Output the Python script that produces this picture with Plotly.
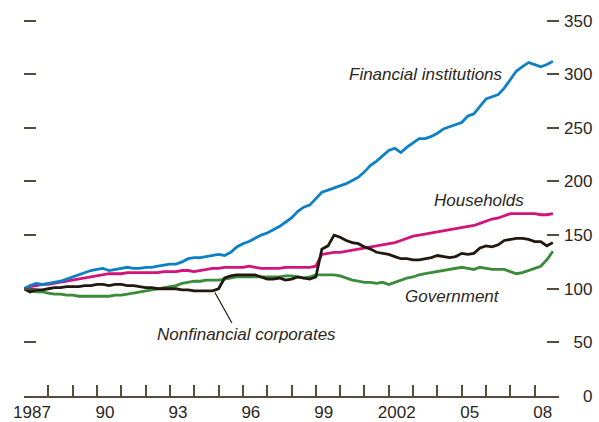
import plotly.graph_objects as go

# Quarterly index values, 1987Q1 .. 2008Q4 (1987 = 100)
years_q = [1987 + i * 0.25 for i in range(88)]

financial = [100, 103, 105, 104,
             105, 106, 107, 109,
             111, 113, 115, 117,
             118, 119, 117, 118,
             119, 120, 119, 119,
             120, 120, 121, 122,
             123, 123, 125, 128,
             129, 129, 130, 131,
             132, 131, 134, 139,
             142, 144, 147, 150,
             152, 155, 158, 162,
             166, 172, 176, 178,
             184, 190, 192, 194,
             196, 198, 201, 204,
             209, 215, 219, 224,
             229, 231, 227, 232,
             236, 240, 240, 242,
             245, 249, 251, 253,
             255, 261, 263, 270,
             277, 279, 281, 287,
             295, 303, 307, 311,
             309, 307, 309, 312]

households = [100, 102, 103, 104,
              104, 105, 106, 107,
              108, 109, 110, 111,
              112, 113, 114, 114,
              114, 115, 115, 115,
              115, 115, 115, 116,
              116, 116, 117, 117,
              116, 117, 118, 119,
              119, 120, 120, 120,
              120, 121, 120, 119,
              119, 119, 119, 120,
              120, 120, 120, 120,
              121, 132, 133, 134,
              134, 135, 136, 137,
              138, 139, 140, 141,
              142, 143, 145, 147,
              149, 150, 151, 152,
              153, 154, 155, 156,
              157, 158, 159, 161,
              163, 165, 166, 168,
              170, 170, 170, 170,
              170, 169, 169, 170]

nonfinancial = [100, 97, 99, 99,
                100, 101, 101, 102,
                102, 102, 103, 103,
                104, 104, 103, 104,
                104, 103, 103, 102,
                101, 101, 100, 100,
                100, 100, 99, 99,
                98, 98, 98, 98,
                100, 110, 112, 113,
                113, 113, 113, 111,
                109, 109, 110, 108,
                109, 111, 110, 109,
                111, 137, 140, 150,
                148, 145, 143, 142,
                139, 137, 134, 133,
                132, 130, 128, 128,
                127, 127, 128, 129,
                131, 130, 129, 130,
                133, 132, 133, 138,
                140, 139, 141, 145,
                146, 147, 147, 146,
                144, 144, 140, 143]

government = [100, 98, 97, 97,
              96, 95, 95, 94,
              94, 93, 93, 93,
              93, 93, 93, 94,
              94, 95, 96, 97,
              98, 99, 100, 101,
              102, 103, 105, 106,
              107, 107, 108, 108,
              108, 109, 110, 111,
              111, 111, 111, 111,
              111, 111, 111, 112,
              112, 111, 110, 111,
              113, 113, 113, 113,
              112, 110, 108, 107,
              106, 106, 105, 106,
              104, 106, 108, 110,
              111, 113, 114, 115,
              116, 117, 118, 119,
              120, 119, 118, 120,
              119, 118, 118, 118,
              116, 114, 115, 117,
              119, 121, 127, 135]

x_tick_years = list(range(1987, 2010))
x_label_map = {1987: "1987", 1990: "90", 1993: "93", 1996: "96",
               1999: "99", 2002: "2002", 2005: "05", 2008: "08"}
y_tick_vals = [0, 50, 100, 150, 200, 250, 300, 350]
y_tick_text = ["\u2007\u20070", "\u200750", "100", "150", "200", "250", "300", "350"]

FONT = "Liberation Sans, Arial, sans-serif"
TXT = "#2b2622"
TICK = "#564c3e"

series = [
    ("Government", government, "#3b8b3a"),
    ("Households", households, "#d1137b"),
    ("Financial institutions", financial, "#0b80c6"),
    ("Nonfinancial corporates", nonfinancial, "#22180f"),
]

fig = go.Figure()
for name, vals, col in series:
    fig.add_trace(go.Scatter(x=years_q, y=vals, mode="lines", name=name,
                             line=dict(color=col, width=2.8), hoverinfo="skip"))

labels = [
    ("Financial institutions", 2000.28, 300),
    ("Households", 2003.77, 182.5),
    ("Government", 2002.58, 93),
    ("Nonfinancial corporates", 1992.38, 57),
]
for txt, x, y in labels:
    fig.add_annotation(x=x, y=y, text="<i>" + txt + "</i>", showarrow=False,
                       xanchor="left", yanchor="middle",
                       font=dict(family=FONT, size=17, color=TXT))

# leader line for Nonfinancial corporates
fig.add_shape(type="line", x0=1994.85, y0=96.5, x1=1995.55, y1=68,
              line=dict(color="#22180f", width=1.2))

fig.update_layout(
    template="none",
    width=599, height=422,
    margin=dict(l=24, r=40, t=19, b=26),
    paper_bgcolor="white", plot_bgcolor="white",
    showlegend=False,
    font=dict(family=FONT, size=17, color=TXT),
    xaxis=dict(range=[1987, 2009], tickmode="array", tickvals=x_tick_years,
               ticktext=[x_label_map.get(y, "") for y in x_tick_years],
               ticks="inside", ticklen=11, tickwidth=1.5, tickcolor=TICK,
               showline=True, linecolor=TICK, linewidth=1.5,
               showgrid=False, zeroline=False, ticklabelshift=8,
               automargin=False,
               tickfont=dict(family=FONT, size=17, color=TXT)),
    yaxis=dict(range=[0, 351.5], side="right", tickmode="array",
               tickvals=y_tick_vals, ticktext=y_tick_text,
               ticks="inside", ticklen=12, tickwidth=1.8, tickcolor=TICK,
               mirror="ticks", showline=False, showgrid=False, zeroline=False,
               automargin=False, ticklabelstandoff=4,
               tickfont=dict(family=FONT, size=17, color=TXT)),
)

fig.write_html("out.html", config={"displayModeBar": False},
               post_script="document.body.style.margin='0px';document.body.style.padding='0px';")
